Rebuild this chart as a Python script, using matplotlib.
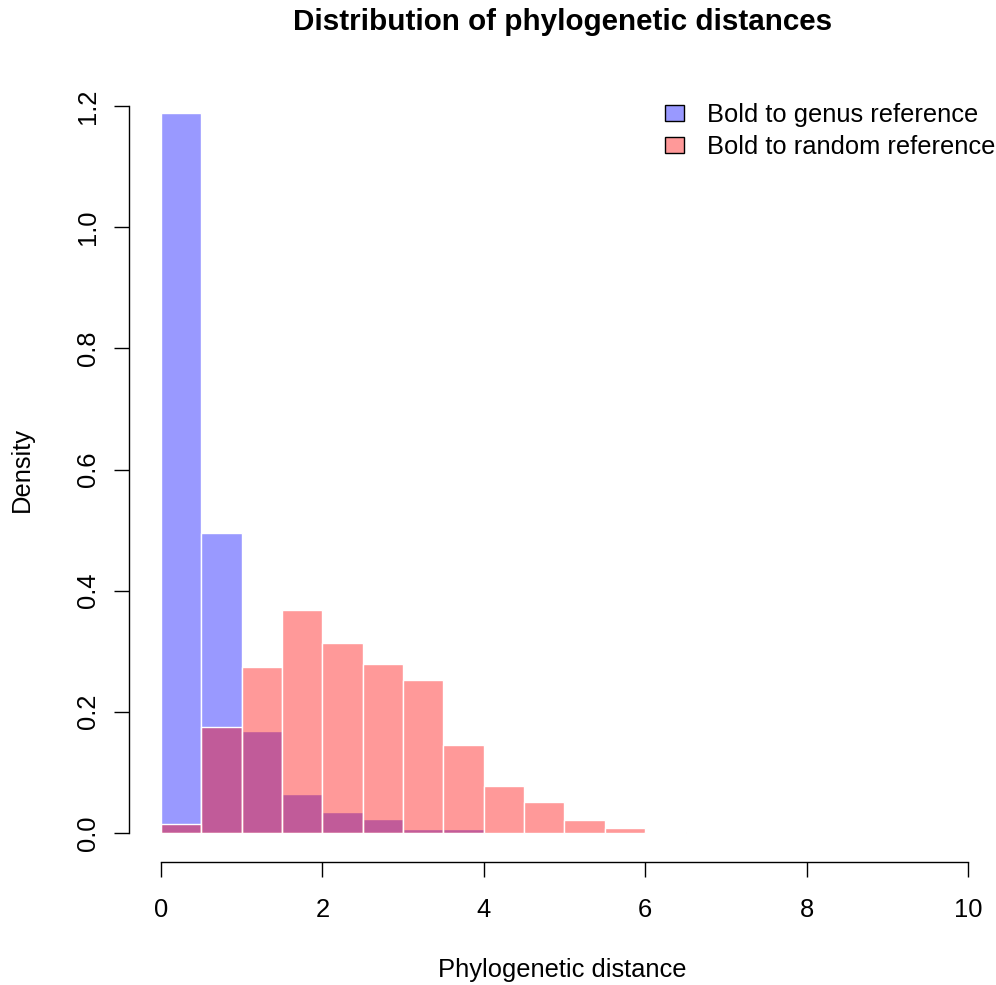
import matplotlib.pyplot as plt
from matplotlib.patches import Patch
import numpy as np

plt.rcParams['font.family'] = ['Liberation Sans', 'DejaVu Sans']

# bin edges (width 0.5) and densities
bin_edges = np.arange(0, 6.5 + 0.01, 0.5)
genus_density = [1.188, 0.495, 0.168, 0.064, 0.035, 0.023, 0.007, 0.007,
                 0, 0, 0, 0, 0]
random_density = [0.015, 0.175, 0.274, 0.368, 0.314, 0.279, 0.253, 0.145,
                  0.078, 0.051, 0.021, 0.008, 0.002]
legend_labels = ["Bold to genus reference", "Bold to random reference"]

W, H = 996, 985
fig = plt.figure(figsize=(W / 100, H / 100), dpi=100)

# plot region in pixels (R style, 4% padding around data)
left, right, top, bottom = 128.7, 996, 77, 862
ax = fig.add_axes([left / W, (H - bottom) / H, (right - left) / W, (bottom - top) / H])

px_per_x = (968 - 161) / 10.0
ax.set_xlim(-0.4, -0.4 + (right - left) / px_per_x)
ax.set_ylim(-0.048, 1.248)

blue = (0, 0, 1, 0.4)
red = (1, 0, 0, 0.4)
lefts = bin_edges[:-1]
ax.bar(lefts, genus_density, width=0.5, align='edge', facecolor=blue,
       edgecolor='white', linewidth=1.0)
ax.bar(lefts, random_density, width=0.5, align='edge', facecolor=red,
       edgecolor='white', linewidth=1.0)

# R-like detached axes
for s in ['top', 'right']:
    ax.spines[s].set_visible(False)
ax.spines['bottom'].set_bounds(0, 10)
ax.spines['left'].set_bounds(0, 1.2)
for s in ['bottom', 'left']:
    ax.spines[s].set_linewidth(1.0)

fs = 18.4
ax.set_xticks([0, 2, 4, 6, 8, 10])
ax.set_yticks([0.0, 0.2, 0.4, 0.6, 0.8, 1.0, 1.2])
ax.set_yticklabels(['0.0', '0.2', '0.4', '0.6', '0.8', '1.0', '1.2'],
                   rotation=90, va='center')
ax.tick_params(axis='both', direction='out', length=11, width=1.0,
               labelsize=fs)
ax.tick_params(axis='x', pad=15)
ax.tick_params(axis='y', pad=10)

fig.text((left + right) / 2 / W, 1 - 22 / H, "Distribution of phylogenetic distances",
         ha='center', va='center', fontsize=21.3, fontweight='bold')
fig.text((left + right) / 2 / W, 1 - 970 / H, "Phylogenetic distance",
         ha='center', va='center', fontsize=fs)
fig.text(22 / W, 1 - 470 / H, "Density", ha='center', va='center',
         fontsize=fs, rotation=90)

handles = [Patch(facecolor=(0.6, 0.6, 1.0), edgecolor='black', linewidth=1.0),
           Patch(facecolor=(1.0, 0.6, 0.6), edgecolor='black', linewidth=1.0)]
ax.legend(handles, legend_labels, loc='upper left',
          bbox_to_anchor=(665 / W, 1 - 103 / H), bbox_transform=fig.transFigure,
          frameon=False, fontsize=fs, handlelength=0.75, handleheight=0.6,
          handletextpad=0.9, labelspacing=0.32, borderpad=0, borderaxespad=0)

fig.savefig("out.png", dpi=100)
